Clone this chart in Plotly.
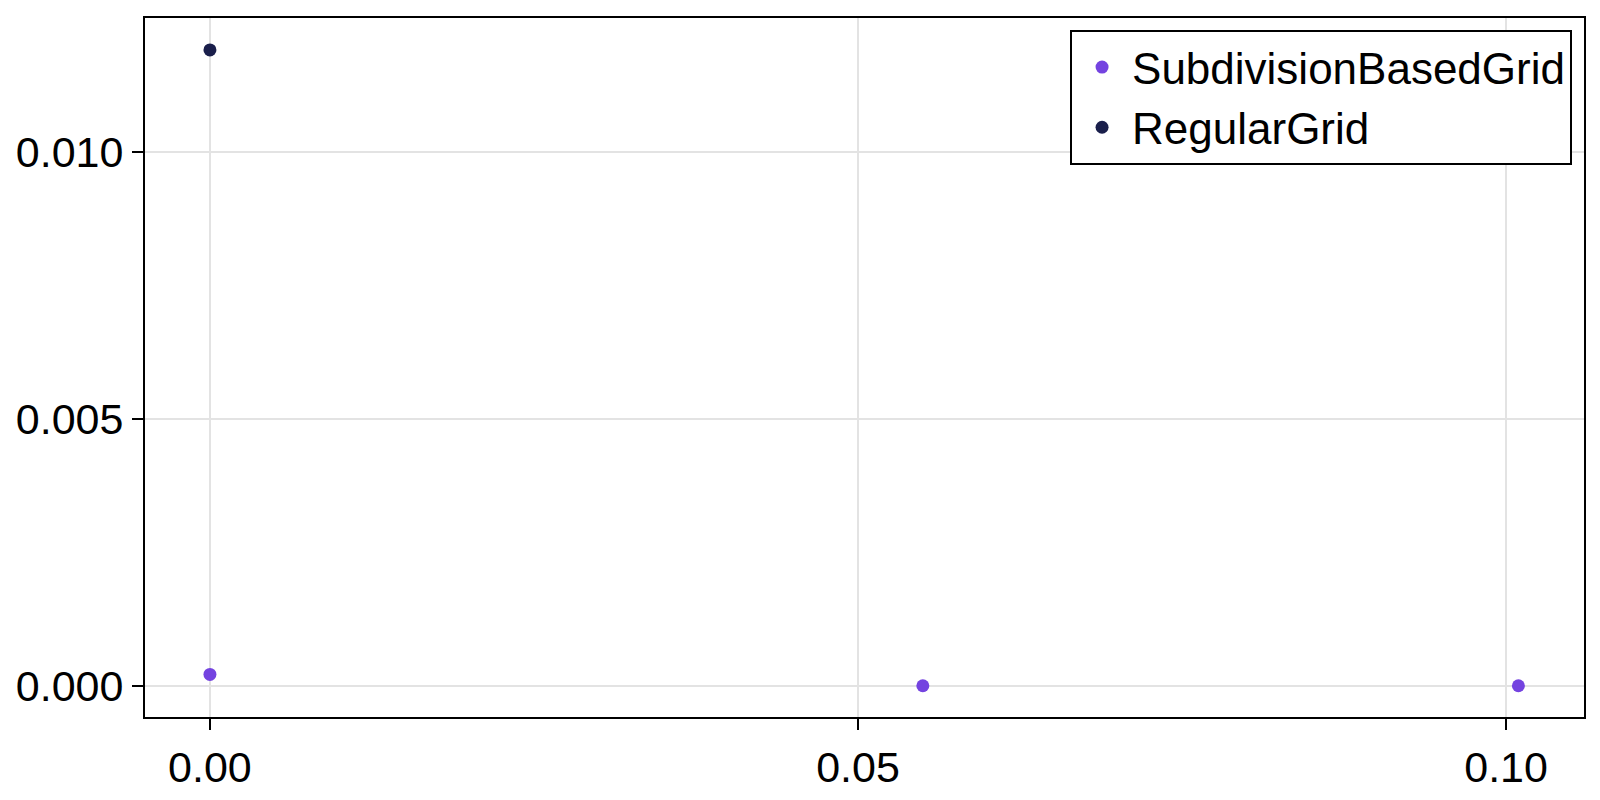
import plotly.graph_objects as go

# values
subdiv_x = [0.0, 0.0550, 0.10095]
subdiv_y = [0.000213, 0.0, 0.0]
regular_x = [0.0]
regular_y = [0.01191]

x_ticks = [0.0, 0.05, 0.10]
x_labels = ["0.00", "0.05", "0.10"]
y_ticks = [0.0, 0.005, 0.010]
y_labels = ["0.000", "0.005", "0.010"]

FONT = "Liberation Sans, Arial, sans-serif"

fig = go.Figure()
fig.add_trace(go.Scatter(
    x=subdiv_x, y=subdiv_y, mode="markers", name="SubdivisionBasedGrid",
    marker=dict(color="#7443e0", size=13, line=dict(width=0)),
))
fig.add_trace(go.Scatter(
    x=regular_x, y=regular_y, mode="markers", name="RegularGrid",
    marker=dict(color="#1a1f4b", size=13, line=dict(width=0)),
))

axis_style = dict(
    showline=True, linecolor="black", linewidth=2, mirror=True,
    showgrid=True, gridcolor="#e3e3e3", gridwidth=2,
    zeroline=False,
    ticks="outside", ticklen=11, tickwidth=2, tickcolor="black",
    tickfont=dict(family=FONT, size=43, color="black"),
)

fig.update_xaxes(range=[-0.00501, 0.10601], tickvals=x_ticks, ticktext=x_labels, **axis_style)
fig.update_yaxes(range=[-0.000585, 0.012508], tickvals=y_ticks, ticktext=y_labels, **axis_style)

# the page body has an 8px margin, so the figure is sized/offset to match
fig.update_layout(
    width=1592, height=792,
    margin=dict(l=136, r=16, t=8, b=83),
    paper_bgcolor="white", plot_bgcolor="white",
    font=dict(family=FONT, size=43, color="black"),
    showlegend=True,
    legend=dict(
        x=0.9917, xanchor="right", y=0.9829, yanchor="top",
        bordercolor="black", borderwidth=2, bgcolor="white",
        itemwidth=50,
        font=dict(family=FONT, size=44, color="black"),
    ),
)

fig.write_html("out.html")
